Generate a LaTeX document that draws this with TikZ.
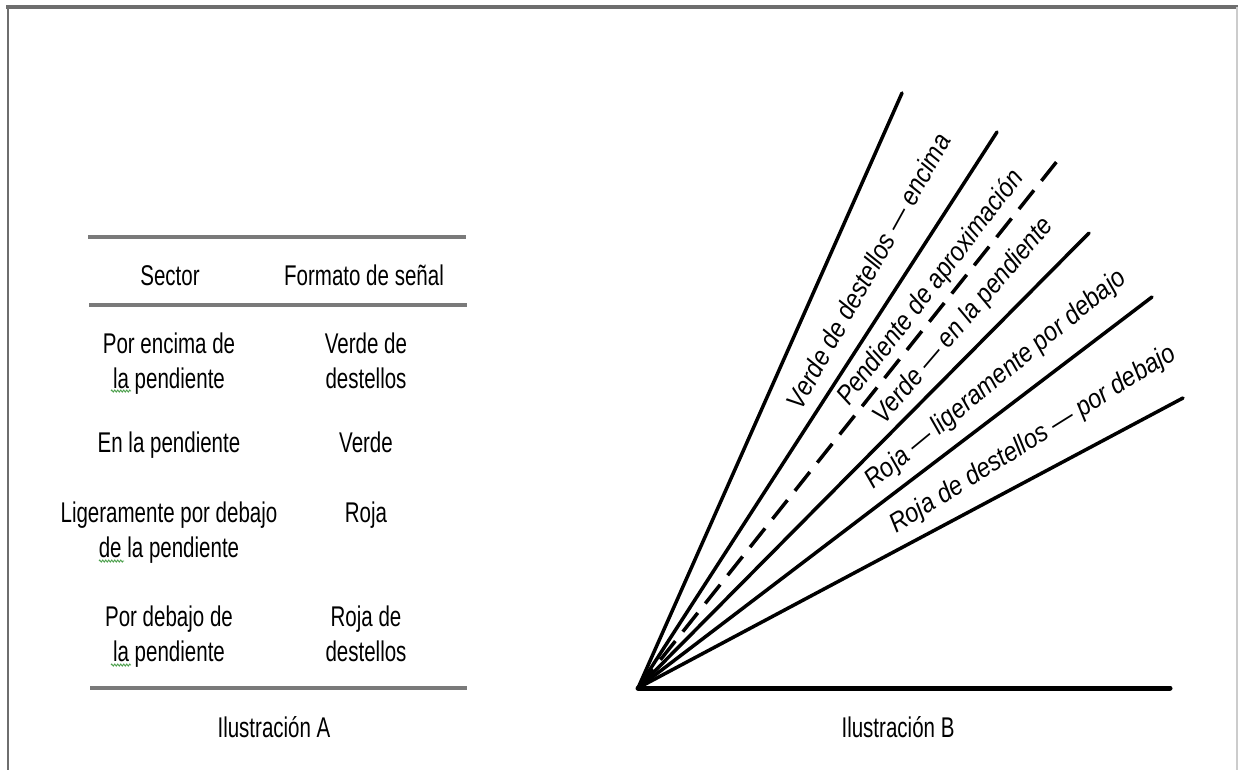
\documentclass[tikz,border=0pt]{standalone}
\usepackage{fontspec}
\usetikzlibrary{decorations.pathmorphing}
\setmainfont{Liberation Sans}
\newfontfamily\tabfont[FakeStretch=0.72]{Liberation Sans}
\newfontfamily\raylabfont[FakeStretch=0.88]{Liberation Sans}
\definecolor{framegray}{HTML}{6E6E6E}
\definecolor{rulegray}{HTML}{7A7A7A}
\definecolor{spellgreen}{HTML}{4CA04C}
\tikzset{
  cell/.style={inner sep=0pt, anchor=base, align=center, font=\tabfont\fontsize{28.5}{35}\selectfont},
  tabrule/.style={draw=rulegray, line width=4pt},
  ray/.style={draw=black, line width=3.5pt, line cap=round},
  dashray/.style={ray, dash pattern=on 24pt off 12pt, line cap=butt},
  raylab/.style={inner sep=0pt, font=\raylabfont\itshape\fontsize{27}{30}\selectfont},
  spell/.style={draw=spellgreen, line width=0.9pt, decorate, decoration={zigzag, segment length=3pt, amplitude=1pt}},
}
\begin{document}
\begin{tikzpicture}[x=1pt,y=-1pt]
\useasboundingbox (0,0) rectangle (1238,770);
% frame
\draw[framegray, line width=4pt] (6,7) -- (1238,7);
\draw[framegray, line width=2pt] (8,7) -- (8,770);
\draw[gray!40, line width=1.5pt] (1237,7) -- (1237,770);
% table (Ilustracion A)
\coordinate (t1l) at (88,237); \coordinate (t1r) at (466,237);
\coordinate (t2l) at (89,305); \coordinate (t2r) at (467,305);
\coordinate (t3l) at (90,688); \coordinate (t3r) at (467,688);
\draw[tabrule] (t1l) -- (t1r);
\draw[tabrule] (t2l) -- (t2r);
\draw[tabrule] (t3l) -- (t3r);
\node[cell] (h1) at (170,285) {Sector};
\node[cell] (h2) at (364,285) {Formato de señal};
\node[cell] (a1) at (169,388) {Por encima de\\la pendiente};
\node[cell] (b1) at (366,388) {Verde de\\destellos};
\node[cell] (a2) at (169,452) {En la pendiente};
\node[cell] (b2) at (366,452) {Verde};
\node[cell] (a3) at (169,557) {Ligeramente por debajo\\de la pendiente};
\node[cell] (b3) at (366,522) {Roja};
\node[cell] (a4) at (169,661) {Por debajo de\\la pendiente};
\node[cell] (b4) at (366,661) {Roja de\\destellos};
\node[cell] (capA) at (274,737) {Ilustración A};
% spell-check marks
\coordinate (s1a) at (111,391); \coordinate (s1b) at (131,391);
\coordinate (s2a) at (99,561);  \coordinate (s2b) at (124,561);
\coordinate (s3a) at (111,665); \coordinate (s3b) at (131,665);
\draw[spell] (s1a) -- (s1b);
\draw[spell] (s2a) -- (s2b);
\draw[spell] (s3a) -- (s3b);
% fan (Ilustracion B)
\coordinate (O) at (638,688);
\coordinate (base) at (1170,688);
\coordinate (r1) at (902,93);
\coordinate (r2) at (997,132);
\coordinate (r3) at (1058,160);
\coordinate (r4) at (1089,233);
\coordinate (r5) at (1152,297);
\coordinate (r6) at (1183,398);
\draw[ray, line width=5pt] (O) -- (base);
\draw[ray] (O) -- (r1);
\draw[ray] (O) -- (r2);
\draw[dashray] (O) -- (r3);
\draw[ray] (O) -- (r4);
\draw[ray] (O) -- (r5);
\draw[ray] (O) -- (r6);
\node[raylab, rotate=61] (l1) at (868,271) {Verde de destellos — encima};
\node[raylab, rotate=52.5] (l2) at (931,288) {Pendiente de aproximación};
\node[raylab, rotate=49.5] (l3) at (964,321) {Verde — en la pendiente};
\node[raylab, rotate=39.5] (l4) at (996,380) {Roja — ligeramente por debajo};
\node[raylab, rotate=32] (l5) at (1033,440) {Roja de destellos — por debajo};
\node[cell] (capB) at (898,737) {Ilustración B};
\end{tikzpicture}
\end{document}
